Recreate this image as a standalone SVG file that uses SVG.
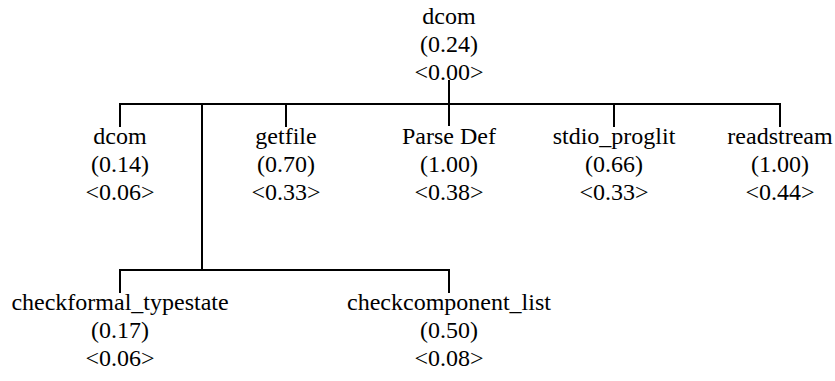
<svg xmlns="http://www.w3.org/2000/svg" width="835" height="381" viewBox="0 0 835 381">
  <style>
    .lbl text { font-family: "Liberation Serif", "Times New Roman", serif; font-size: 24px; fill: #000; text-anchor: middle; }
    .edge { stroke: #000; stroke-width: 2; fill: none; }
  </style>
  <rect width="835" height="381" fill="#fff"/>
  <g id="connectors">
    <!-- root drop and first-level bus -->
    <path class="edge" d="M449,80 V126"/>
    <path class="edge" d="M120,127 V104 H780 V127"/>
    <path class="edge" d="M286,104 V127"/>
    <path class="edge" d="M614,104 V127"/>
    <!-- branch to second-level bus -->
    <path class="edge" d="M202,104 V270"/>
    <path class="edge" d="M120,293 V270 H449 V293"/>
  </g>
  <g class="lbl">
    <g id="root">
      <text x="449" y="24">dcom</text>
      <text x="449" y="52">(0.24)</text>
      <text x="449" y="80">&lt;0.00&gt;</text>
    </g>
    <g id="dcom">
      <text x="120" y="144">dcom</text>
      <text x="120" y="172">(0.14)</text>
      <text x="120" y="200">&lt;0.06&gt;</text>
    </g>
    <g id="getfile">
      <text x="286" y="144">getfile</text>
      <text x="286" y="172">(0.70)</text>
      <text x="286" y="200">&lt;0.33&gt;</text>
    </g>
    <g id="parse_def">
      <text x="449" y="144">Parse Def</text>
      <text x="449" y="172">(1.00)</text>
      <text x="449" y="200">&lt;0.38&gt;</text>
    </g>
    <g id="stdio_proglit">
      <text x="614" y="144">stdio_proglit</text>
      <text x="614" y="172">(0.66)</text>
      <text x="614" y="200">&lt;0.33&gt;</text>
    </g>
    <g id="readstream">
      <text x="780" y="144">readstream</text>
      <text x="780" y="172">(1.00)</text>
      <text x="780" y="200">&lt;0.44&gt;</text>
    </g>
    <g id="checkformal_typestate">
      <text x="120" y="310">checkformal_typestate</text>
      <text x="120" y="338">(0.17)</text>
      <text x="120" y="366">&lt;0.06&gt;</text>
    </g>
    <g id="checkcomponent_list">
      <text x="449" y="310">checkcomponent_list</text>
      <text x="449" y="338">(0.50)</text>
      <text x="449" y="366">&lt;0.08&gt;</text>
    </g>
  </g>
</svg>
